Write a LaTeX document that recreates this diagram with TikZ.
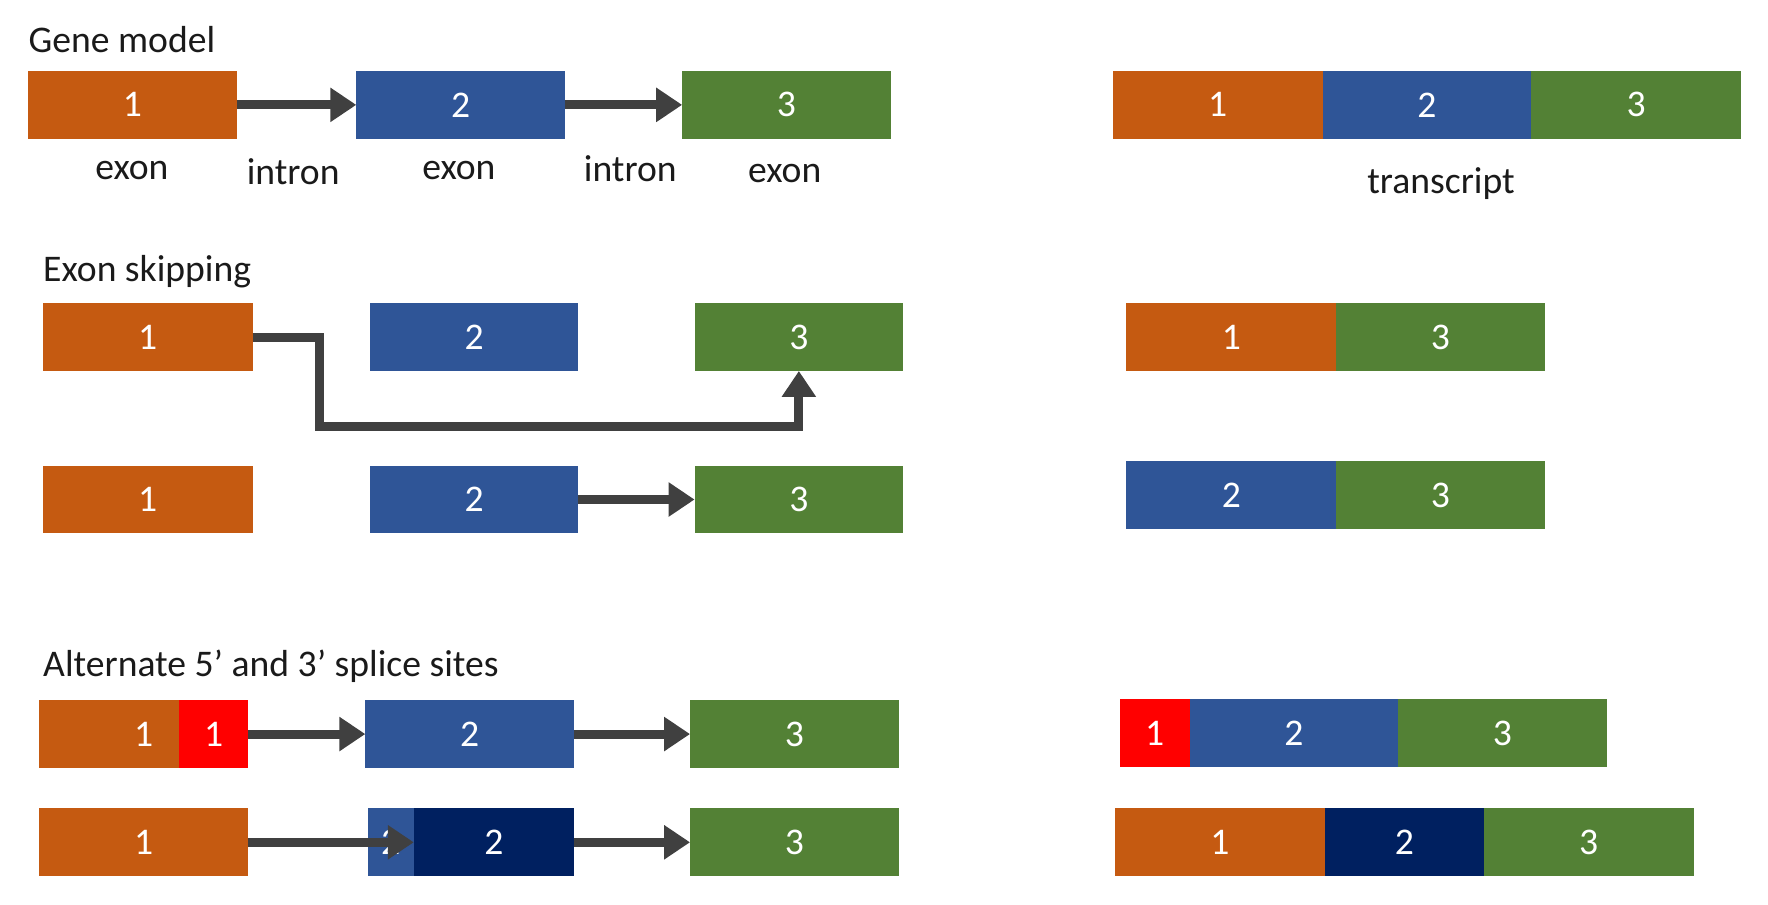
\documentclass[tikz,border=0pt]{standalone}
\usepackage{fontspec}
\setmainfont{Carlito}
\usetikzlibrary{arrows.meta}
\definecolor{cOr}{HTML}{C55A11}
\definecolor{cBl}{HTML}{2F5597}
\definecolor{cGr}{HTML}{538135}
\definecolor{cNv}{HTML}{002060}
\definecolor{cRd}{HTML}{FF0000}
\definecolor{cAr}{HTML}{404040}
\definecolor{cTx}{HTML}{1A1A1A}
\tikzset{
  seg/.style={inner sep=0pt, outer sep=0pt, minimum height=1.2cm, text=white, font=\fontsize{19}{22}\selectfont},
  w/.style={minimum width=#1*0.02cm},
  lbl/.style={inner sep=0pt, text=cTx, font=\fontsize{19}{22}\selectfont},
  conn/.style={draw=cAr, line width=0.16cm, line join=miter, -{Triangle[length=0.46cm,width=0.58cm]}},
}
\begin{document}
\begin{tikzpicture}[x=0.02cm,y=-0.02cm]
\useasboundingbox (0,0) rectangle (1568,802);
% ---------- Gene model ----------
\node[lbl, anchor=west] (tg) at (25,35) {Gene model};
\node[seg, w=185, fill=cOr] (g1) at (117.5,93) {1};
\node[seg, w=185, fill=cBl] (g2) at (408.5,93) {2};
\node[seg, w=185, fill=cGr] (g3) at (697.5,93) {3};
\draw[conn] (g1.east) -- (g2.west);
\draw[conn] (g2.east) -- (g3.west);
\node[lbl] (le1) at (117,151) {exon};
\node[lbl] (li1) at (260,152) {intron};
\node[lbl] (le2) at (407,151) {exon};
\node[lbl] (li2) at (559,150) {intron};
\node[lbl] (le3) at (696,154) {exon};
% transcript
\node[seg, w=186, fill=cOr] (t1) at (1080,93) {1};
\node[seg, w=185, fill=cBl, anchor=west] (t2) at (t1.east) {2};
\node[seg, w=186, fill=cGr, anchor=west] (t3) at (t2.east) {3};
\node[lbl] (lt) at (1278,163) {transcript};
% ---------- Exon skipping ----------
\node[lbl, anchor=west] (ts) at (38,241) {Exon skipping};
\node[seg, w=186, fill=cOr] (a1) at (131,299) {1};
\node[seg, w=185, fill=cBl] (a2) at (420.5,299) {2};
\node[seg, w=185, fill=cGr] (a3) at (708.5,299) {3};
\draw[conn] (a1.east) -- ++(59,0) -- ++(0,79) -| (a3.south);
\node[seg, w=186, fill=cOr] (b1) at (131,443) {1};
\node[seg, w=185, fill=cBl] (b2) at (420.5,443) {2};
\node[seg, w=185, fill=cGr] (b3) at (708.5,443) {3};
\draw[conn] (b2.east) -- (b3.west);
% transcripts
\node[seg, w=186, fill=cOr] (s1) at (1092,299) {1};
\node[seg, w=185, fill=cGr, anchor=west] (s2) at (s1.east) {3};
\node[seg, w=186, fill=cBl] (s3) at (1092,439) {2};
\node[seg, w=185, fill=cGr, anchor=west] (s4) at (s3.east) {3};
% ---------- Alternate splice sites ----------
\node[lbl, anchor=west] (ta) at (38,591) {Alternate 5’ and 3’ splice sites};
\node[seg, w=185, fill=cOr] (c1) at (127.5,651) {1};
\node[seg, w=61, fill=cRd] (c1r) at (189.5,651) {1};
\node[seg, w=185, fill=cBl] (c2) at (416.5,651) {2};
\node[seg, w=185, fill=cGr] (c3) at (704.5,651) {3};
\draw[conn] (c1r.east) -- (c2.west);
\draw[conn] (c2.east) -- (c3.west);
\node[seg, w=185, fill=cOr] (d1) at (127.5,747) {1};
\node[seg, w=41, fill=cBl] (d2a) at (346.5,747) {2};
\node[seg, w=142, fill=cNv] (d2) at (438,747) {2};
\node[seg, w=185, fill=cGr] (d3) at (704.5,747) {3};
\draw[conn] (d1.east) -- (d2.west);
\draw[conn] (d2.east) -- (d3.west);
% transcripts
\node[seg, w=62, fill=cRd] (u1) at (1024,650) {1};
\node[seg, w=185, fill=cBl, anchor=west] (u2) at (u1.east) {2};
\node[seg, w=185, fill=cGr, anchor=west] (u3) at (u2.east) {3};
\node[seg, w=186, fill=cOr] (v1) at (1082,747) {1};
\node[seg, w=141, fill=cNv, anchor=west] (v2) at (v1.east) {2};
\node[seg, w=186, fill=cGr, anchor=west] (v3) at (v2.east) {3};
\end{tikzpicture}
\end{document}
